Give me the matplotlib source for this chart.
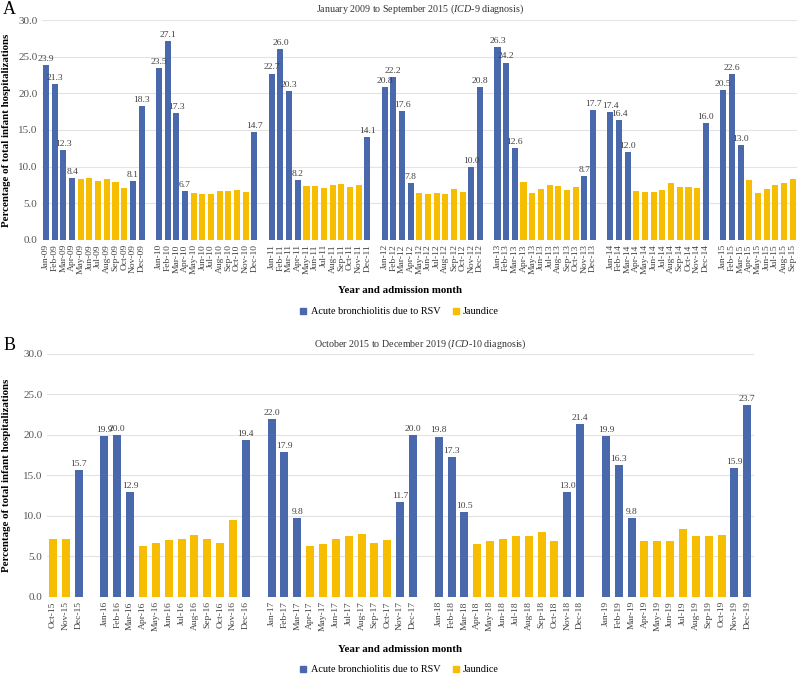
import numpy as np
import matplotlib
matplotlib.use('Agg')
import matplotlib.pyplot as plt
from matplotlib.patches import Patch

plt.rcParams['font.family'] = ['Liberation Serif', 'DejaVu Serif']
plt.rcParams['mathtext.fontset'] = 'custom'
plt.rcParams['mathtext.rm'] = 'Liberation Serif'
plt.rcParams['mathtext.it'] = 'Liberation Serif:italic'

MONTHS = ['Jan', 'Feb', 'Mar', 'Apr', 'May', 'Jun', 'Jul', 'Aug', 'Sep', 'Oct', 'Nov', 'Dec']
BLUE = '#4a69ac'
YELLOW = '#f7bd00'

# --- 面板 A: 2009-01 到 2015-09 (ICD-9) ---
# 每年一组; R = 毛细支气管炎(RSV), J = 黄疸
a_years = ['09', '10', '11', '12', '13', '14', '15']
a_start = [0, 0, 0, 0, 0, 0, 0]   # 每组起始月份
a_vals = [
    [23.9, 21.3, 12.3, 8.4, 8.3, 8.45, 8.1, 8.3, 7.9, 7.05, 8.1, 18.3],
    [23.5, 27.1, 17.3, 6.7, 6.35, 6.3, 6.3, 6.7, 6.7, 6.8, 6.55, 14.7],
    [22.7, 26.0, 20.3, 8.2, 7.4, 7.35, 7.05, 7.55, 7.7, 7.2, 7.45, 14.1],
    [20.8, 22.2, 17.6, 7.8, 6.35, 6.3, 6.4, 6.25, 6.9, 6.5, 10.0, 20.8],
    [26.3, 24.2, 12.6, 7.9, 6.45, 7.0, 7.55, 7.35, 6.75, 7.2, 8.7, 17.7],
    [17.4, 16.4, 12.0, 6.7, 6.55, 6.6, 6.85, 7.8, 7.2, 7.2, 7.1, 16.0],
    [20.5, 22.6, 13.0, 8.2, 6.45, 6.95, 7.55, 7.75, 8.35],
]
a_kind = [
    'RRRRJJJJJJRR',
    'RRRRJJJJJJJR',
    'RRRRJJJJJJJR',
    'RRRRJJJJJJRR',
    'RRRJJJJJJJRR',
    'RRRJJJJJJJJR',
    'RRRJJJJJJ',
]

# --- 面板 B: 2015-10 到 2019-12 (ICD-10) ---
b_years = ['15', '16', '17', '18', '19']
b_start = [9, 0, 0, 0, 0]
b_vals = [
    [7.2, 7.2, 15.7],
    [19.9, 20.0, 12.9, 6.25, 6.65, 7.05, 7.15, 7.6, 7.1, 6.7, 9.5, 19.4],
    [22.0, 17.9, 9.8, 6.35, 6.5, 7.1, 7.5, 7.75, 6.7, 7.0, 11.7, 20.0],
    [19.8, 17.3, 10.5, 6.5, 6.9, 7.15, 7.55, 7.55, 8.0, 6.95, 13.0, 21.4],
    [19.9, 16.3, 9.8, 6.95, 6.9, 6.85, 8.4, 7.5, 7.5, 7.6, 15.9, 23.7],
]
b_kind = [
    'JJR',
    'RRRJJJJJJJJR',
    'RRRJJJJJJJRR',
    'RRRJJJJJJJRR',
    'RRRJJJJJJJRR',
]


def flatten(years, starts, vals, kinds):
    """按年展开, 每年之间空一格"""
    xs, ys, ks, labels = [], [], [], []
    pos = 0
    for yr, s, v, k in zip(years, starts, vals, kinds):
        for i, (val, kk) in enumerate(zip(v, k)):
            xs.append(pos)
            ys.append(val)
            ks.append(kk)
            labels.append(f'{MONTHS[s + i]}-{yr}')
            pos += 1
        pos += 1
    return np.array(xs), np.array(ys), np.array(ks), labels


def draw_panel(ax, data, width, title_y, title, letter, letter_y):
    xs, ys, ks, labels = data
    rsv = ks == 'R'
    jau = ks == 'J'
    bars_r = ax.bar(xs[rsv], ys[rsv], width=width, color=BLUE, zorder=3)
    ax.bar(xs[jau], ys[jau], width=width, color=YELLOW, zorder=3)
    ax.bar_label(bars_r, labels=[f'{v:.1f}' for v in ys[rsv]], padding=1.5,
                 fontsize=6.8, color='#404040')

    ax.set_xlim(xs[0] - 0.5, xs[-1] + 0.5)
    ax.set_ylim(0, 30)
    ax.set_yticks(np.arange(0, 31, 5))
    ax.set_yticklabels([f'{t:.1f}' for t in np.arange(0, 31, 5)], fontsize=8, color='#555555')
    ax.set_xticks(xs)
    ax.set_xticklabels(labels, rotation=90, fontsize=6.8, color='#404040')
    ax.tick_params(length=0, pad=3)
    ax.grid(axis='y', color='#e3e3e3', lw=0.8, zorder=0)
    for s in ax.spines.values():
        s.set_visible(False)

    pos = ax.get_position()
    fig.text(7 / 799, (pos.y0 + pos.y1) / 2, 'Percentage of total infant hospitalizations',
             rotation=90, ha='center', va='center', fontsize=7.8, fontweight='bold')
    fig.text(420 / 799, title_y, title, ha='center', va='center', fontsize=7.2, color='#333333')
    fig.text(0.004, letter_y, letter, ha='left', va='center', fontsize=13)


fig = plt.figure(figsize=(7.99, 6.76), dpi=100)
fig.patch.set_facecolor('white')

ax_a = fig.add_axes([0.0522, 0.645, 0.9453, 0.3254])
ax_b = fig.add_axes([0.0583, 0.1169, 0.885, 0.3595])

draw_panel(ax_a, flatten(a_years, a_start, a_vals, a_kind), 0.7,
           1 - 9 / 676, r'January 2009 to September 2015 ($\it{ICD}$-$\it{9}$ diagnosis)',
           'A', 1 - 9 / 676)
draw_panel(ax_b, flatten(b_years, b_start, b_vals, b_kind), 0.62,
           1 - 344 / 676, r'October 2015 to December 2019 ($\it{ICD}$-$\it{10}$ diagnosis)',
           'B', 1 - 345 / 676)

handles = [Patch(color=BLUE, label='Acute bronchiolitis due to RSV'),
           Patch(color=YELLOW, label='Jaundice')]
for xl_y, lg_y in [(291, 312), (649, 670)]:
    fig.text(0.5, 1 - xl_y / 676, 'Year and admission month', ha='center', va='center',
             fontsize=7.8, fontweight='bold')
    fig.legend(handles=handles, loc='center', bbox_to_anchor=(0.5, 1 - lg_y / 676),
               ncol=2, frameon=False, fontsize=7.4, handlelength=0.6, handleheight=0.6,
               handletextpad=0.4, columnspacing=1.2, borderpad=0)

fig.savefig('out.png', dpi=100)
